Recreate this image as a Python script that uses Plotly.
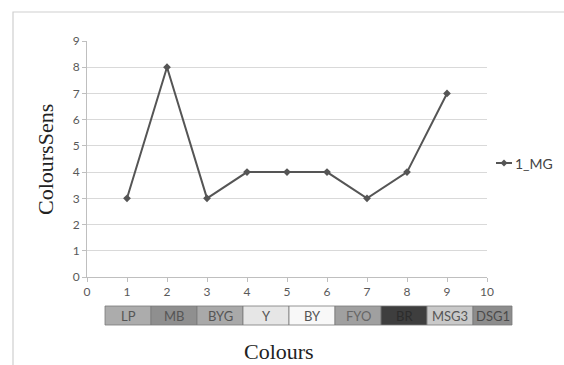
import plotly.graph_objects as go

x_vals = [1, 2, 3, 4, 5, 6, 7, 8, 9]
sens = [3, 8, 3, 4, 4, 4, 3, 4, 7]
series_name = "1_MG"
colour_labels = ["LP", "MB", "BYG", "Y", "BY", "FYO", "BR", "MSG3", "DSG1"]
colour_fills = ["#acacac", "#8f8f8f", "#a9a9a9", "#e6e6e6", "#f8f8f8",
                "#a0a0a0", "#3e3e3e", "#c9c9c9", "#8d8d8d"]
label_colours = ["#555555", "#555555", "#555555", "#555555", "#555555",
                 "#666666", "#2c2c2c", "#555555", "#4a4a4a"]

W, H = 564, 365
L, R, T, B = 87, 77, 41, 88
pw, ph = W - L - R, H - T - B

def px(xp):
    return (xp - L) / pw

def py(yp):
    return (H - B - yp) / ph

LINE_COL = "#555555"

fig = go.Figure()
fig.add_trace(go.Scatter(
    x=x_vals, y=sens, mode="lines+markers", name=series_name,
    line=dict(color=LINE_COL, width=2),
    marker=dict(symbol="diamond", size=6, color=LINE_COL),
    showlegend=False,
))

shapes = []
annotations = []
# outer frame
shapes.append(dict(type="rect", xref="paper", yref="paper",
                   x0=px(13), x1=px(580), y0=py(380), y1=py(12),
                   line=dict(color="#cfcfcf", width=1.2), fillcolor="rgba(0,0,0,0)", layer="below"))
# colour strip
bx0, bw = 105, 46
for i, (lab, fc, tc) in enumerate(zip(colour_labels, colour_fills, label_colours)):
    x0 = bx0 + i * bw
    x1 = min(x0 + bw, 512)
    shapes.append(dict(type="rect", xref="paper", yref="paper",
                       x0=px(x0), x1=px(x1), y0=py(325), y1=py(306),
                       fillcolor=fc, line=dict(color="#7a7a7a", width=0.8)))
    annotations.append(dict(xref="paper", yref="paper", x=px((x0 + x1) / 2), y=py(315.5),
                            xanchor="center", yanchor="middle",
                            text=lab, showarrow=False,
                            font=dict(family="Lato, Liberation Sans", size=13, color=tc)))

annotations.append(dict(xref="paper", yref="paper", x=px(279), y=py(351),
                        xanchor="center", yanchor="middle",
                        text="Colours", showarrow=False,
                        font=dict(family="Liberation Serif", size=22, color="#222222")))
annotations.append(dict(xref="paper", yref="paper", x=px(45), y=py(160),
                        xanchor="center", yanchor="middle",
                        text="ColoursSens", showarrow=False, textangle=-90,
                        font=dict(family="Liberation Serif", size=22, color="#222222")))

# legend (drawn manually to fit the narrow right margin)
ly = 163
shapes.append(dict(type="line", xref="paper", yref="paper",
                   x0=px(496), x1=px(512), y0=py(ly), y1=py(ly),
                   line=dict(color=LINE_COL, width=2)))
cx = 504
shapes.append(dict(type="path", xref="paper", yref="paper",
                   path=f"M {px(cx-3.5)} {py(ly)} L {px(cx)} {py(ly-3.5)} L {px(cx+3.5)} {py(ly)} L {px(cx)} {py(ly+3.5)} Z",
                   fillcolor=LINE_COL, line=dict(color=LINE_COL, width=0)))
annotations.append(dict(xref="paper", yref="paper", x=px(513), y=py(ly),
                        xanchor="left", yanchor="middle",
                        text=series_name, showarrow=False,
                        font=dict(family="Lato, Liberation Sans", size=14, color="#444444")))

fig.update_layout(
    width=W, height=H,
    margin=dict(l=L, r=R, t=T, b=B, autoexpand=False),
    paper_bgcolor="white", plot_bgcolor="white",
    showlegend=False,
    xaxis=dict(range=[0, 10], dtick=1, tick0=0, showgrid=False, zeroline=False,
               showline=True, linecolor="#bfbfbf", linewidth=1,
               ticks="outside", ticklen=4, tickcolor="#bfbfbf",
               tickfont=dict(family="Lato, Liberation Sans", size=12, color="#595959")),
    yaxis=dict(range=[0, 9], dtick=1, tick0=0, showgrid=True, gridcolor="#d9d9d9", gridwidth=1,
               zeroline=False, showline=True, linecolor="#bfbfbf", linewidth=1,
               ticks="outside", ticklen=4, tickcolor="#bfbfbf",
               tickfont=dict(family="Lato, Liberation Sans", size=12, color="#595959")),
    shapes=shapes, annotations=annotations,
)

fig.write_html("out.html")
